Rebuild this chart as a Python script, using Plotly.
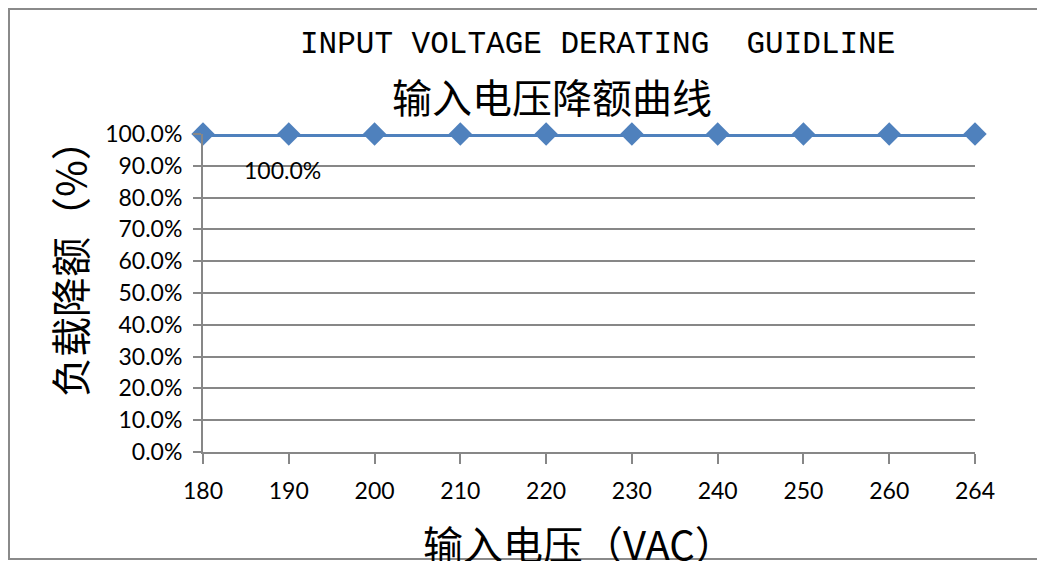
import plotly.graph_objects as go

voltages = ["180", "190", "200", "210", "220", "230", "240", "250", "260", "264"]
load_pct = [1.0, 1.0, 1.0, 1.0, 1.0, 1.0, 1.0, 1.0, 1.0, 1.0]
y_ticks = [0.0, 0.1, 0.2, 0.3, 0.4, 0.5, 0.6, 0.7, 0.8, 0.9, 1.0]
title_en = "INPUT VOLTAGE DERATING  GUIDLINE"
title_cn = "输入电压降额曲线"
x_title = "输入电压（VAC）"
y_title = "负载降额（%）"
label_idx = 1

CJK = "Noto Sans CJK SC"
TICKF = "Lato, Open Sans, sans-serif"
GRID = "#878787"
BLUE = "#4F81BD"

fig = go.Figure()
fig.add_trace(go.Scatter(
    x=voltages, y=load_pct, mode="lines+markers",
    line=dict(color=BLUE, width=6),
    marker=dict(symbol="diamond", size=18, color=BLUE, line=dict(width=0)),
    cliponaxis=False, showlegend=False, hoverinfo="x+y",
))

fig.update_layout(
    width=1045, height=561,
    margin=dict(l=195, r=78, t=126, b=117),
    paper_bgcolor="white", plot_bgcolor="white",
    xaxis=dict(
        type="category", range=[0, len(voltages) - 1],
        showgrid=False, showline=True, linecolor=GRID, linewidth=2,
        ticks="outside", ticklen=10, tickwidth=2, tickcolor=GRID,
        tickfont=dict(family=TICKF, size=23, color="black"),
        ticklabelstandoff=7, zeroline=False,
    ),
    yaxis=dict(
        range=[0, 1], tickvals=y_ticks, tickformat=".1%",
        showgrid=True, gridcolor=GRID, gridwidth=2,
        showline=True, linecolor=GRID, linewidth=2,
        ticks="outside", ticklen=8, tickwidth=2, tickcolor=GRID,
        tickfont=dict(family=TICKF, size=23, color="black"),
        ticklabelstandoff=6, zeroline=False,
    ),
    shapes=[dict(type="rect", xref="paper", yref="paper",
                 x0=-0.2513, x1=1.2, y0=-0.3365, y1=1.393,
                 line=dict(color="#8a8a8a", width=2), layer="below")],
    annotations=[
        dict(text=title_en, xref="paper", yref="paper", x=0.5104, y=1.283,
             xanchor="center", yanchor="middle", showarrow=False,
             font=dict(family="Liberation Mono, monospace", size=31, color="black")),
        dict(text=title_cn, xref="paper", yref="paper", x=0.452, y=1.119,
             xanchor="center", yanchor="middle", showarrow=False,
             font=dict(family=CJK, size=40, color="black")),
        dict(text=y_title, xref="paper", yref="paper", x=-0.1736, y=0.61,
             xanchor="center", yanchor="middle", showarrow=False, textangle=-90,
             font=dict(family=CJK, size=40, color="black")),
        dict(text=x_title, xref="paper", yref="paper", x=0.487, y=-0.285,
             xanchor="center", yanchor="middle", showarrow=False,
             font=dict(family=CJK, size=40, color="black")),
        dict(text=f"{load_pct[label_idx]*100:.1f}%", x=label_idx,
             y=load_pct[label_idx] - 0.113,
             xref="x", yref="y", xanchor="center", yanchor="middle",
             xshift=-6, showarrow=False,
             font=dict(family=TICKF, size=23, color="black")),
    ],
)

fig.write_html("out.html")
